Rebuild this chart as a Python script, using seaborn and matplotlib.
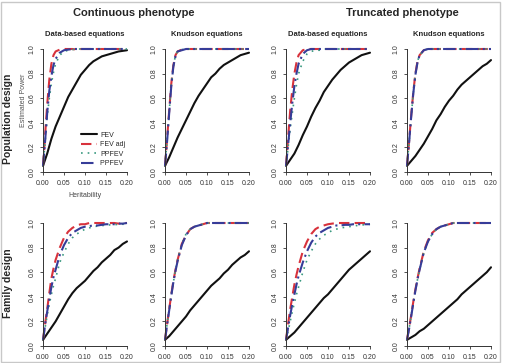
import numpy as np
import pandas as pd
import seaborn as sns
import matplotlib.pyplot as plt
from matplotlib.patches import Rectangle

# heritability grid shared by every curve
HERIT = [0, 0.005, 0.01, 0.015, 0.02, 0.025, 0.03, 0.04, 0.05, 0.06, 0.07, 0.08,
         0.09, 0.10, 0.11, 0.12, 0.13, 0.14, 0.15, 0.16, 0.17, 0.18, 0.19, 0.20]

SERIES = ["FEV", "FEV adj", "PPFEV", "PPFEV "]
COLUMN_TITLES = ["Continuous phenotype", "Truncated phenotype"]
PANEL_TITLES = ["Data-based equations", "Knudson equations"]
ROW_TITLES = ["Population design", "Family design"]

# population design, continuous phenotype, data-based equations
pop_cont_data_fev = [.05, .10, .15, .21, .27, .32, .37, .45, .53, .61, .67, .73, .79, .83, .87, .90, .92, .94, .95, .96, .97, .98, .985, .99]
pop_cont_data_adj = [.05, .30, .55, .75, .88, .95, .98, .995, 1, 1, 1, .995, 1, 1, 1, 1, 1, 1, 1, 1, 1, 1, 1, 1]
pop_cont_data_pp = [.05, .24, .45, .60, .72, .81, .88, .95, .98, .99, .995, 1, 1, 1, 1, 1, 1, 1, 1, 1, 1, 1, 1, 1]
pop_cont_data_ppadj = [.05, .25, .48, .66, .78, .87, .92, .97, .99, .995, 1, 1, 1, 1, 1, 1, 1, 1, 1, 1, 1, 1, 1, 1]

# population design, continuous phenotype, Knudson equations
pop_cont_knud_fev = [.05, .085, .12, .16, .20, .24, .28, .35, .42, .49, .56, .62, .67, .72, .77, .80, .84, .87, .89, .91, .93, .95, .96, .97]
pop_cont_knud_adj = [.05, .27, .50, .72, .87, .95, .98, .995, 1, 1, 1, 1, 1, 1, 1, 1, 1, 1, 1, 1, 1, 1, 1, 1]
pop_cont_knud_pp = [.05, .26, .49, .71, .86, .95, .98, .995, 1, 1, 1, 1, 1, 1, 1, 1, 1, 1, 1, 1, 1, 1, 1, 1]
pop_cont_knud_ppadj = [.05, .25, .48, .70, .86, .94, .98, .99, 1, 1, 1, 1, 1, 1, 1, 1, 1, 1, 1, 1, 1, 1, 1, 1]

# population design, truncated phenotype, data-based equations
pop_trunc_data_fev = [.05, .075, .10, .125, .15, .185, .22, .30, .37, .45, .52, .58, .65, .70, .75, .79, .83, .86, .89, .91, .93, .95, .96, .97]
pop_trunc_data_adj = [.05, .28, .50, .67, .80, .89, .95, .99, 1, 1, 1, 1, 1, 1, 1, 1, 1, 1, 1, 1, 1, 1, 1, 1]
pop_trunc_data_pp = [.05, .20, .35, .48, .60, .71, .80, .90, .96, .98, .99, .99, 1, 1, 1, 1, 1, 1, 1, 1, 1, 1, 1, 1]
pop_trunc_data_ppadj = [.05, .22, .40, .56, .70, .80, .88, .96, .99, 1, 1, 1, 1, 1, 1, 1, 1, 1, 1, 1, 1, 1, 1, 1]

# population design, truncated phenotype, Knudson equations
pop_trunc_knud_fev = [.05, .07, .09, .11, .13, .155, .18, .23, .29, .35, .42, .47, .53, .58, .62, .67, .71, .74, .77, .80, .83, .86, .88, .91]
pop_trunc_knud_adj = [.05, .25, .46, .65, .80, .90, .95, .99, 1, 1, 1, 1, 1, 1, 1, 1, 1, 1, 1, 1, 1, 1, 1, 1]
pop_trunc_knud_pp = [.05, .24, .45, .64, .80, .90, .95, .99, 1, 1, 1, 1, 1, 1, 1, 1, 1, 1, 1, 1, 1, 1, 1, 1]
pop_trunc_knud_ppadj = [.05, .24, .45, .64, .79, .89, .95, .99, 1, 1, 1, 1, 1, 1, 1, 1, 1, 1, 1, 1, 1, 1, 1, 1]

# family design, continuous phenotype, data-based equations
fam_cont_data_fev = [.05, .075, .10, .125, .15, .175, .20, .26, .32, .38, .43, .47, .50, .53, .57, .61, .64, .68, .71, .74, .78, .80, .83, .85]
fam_cont_data_adj = [.05, .18, .30, .43, .55, .63, .70, .80, .88, .93, .96, .98, .99, .99, 1, 1, 1, 1, 1, 1, 1, .995, 1, 1]
fam_cont_data_pp = [.05, .15, .25, .34, .42, .49, .55, .68, .76, .83, .88, .91, .93, .95, .96, .97, .975, .98, .98, .985, .985, .99, .99, .99]
fam_cont_data_ppadj = [.05, .17, .28, .38, .48, .56, .62, .74, .82, .88, .92, .94, .96, .97, .975, .98, .98, .985, .99, .99, .99, .995, .995, 1]

# family design, continuous phenotype, Knudson equations
fam_cont_knud_fev = [.05, .065, .08, .10, .12, .14, .16, .20, .24, .29, .33, .37, .41, .45, .49, .52, .55, .59, .62, .66, .69, .72, .74, .77]
fam_cont_knud_adj = [.05, .18, .30, .42, .53, .62, .70, .83, .90, .95, .97, .98, .99, 1, 1, 1, 1, 1, 1, 1, 1, 1, 1, 1]
fam_cont_knud_pp = [.05, .18, .30, .42, .52, .62, .70, .83, .91, .95, .97, .98, .99, 1, 1, 1, 1, 1, 1, 1, 1, 1, 1, 1]
fam_cont_knud_ppadj = [.05, .17, .29, .41, .52, .61, .69, .82, .90, .95, .97, .98, .99, 1, 1, 1, 1, 1, 1, 1, 1, 1, 1, 1]

# family design, truncated phenotype, data-based equations
fam_trunc_data_fev = [.05, .065, .08, .095, .11, .13, .15, .19, .23, .27, .31, .35, .39, .42, .46, .50, .54, .58, .62, .65, .68, .71, .74, .77]
fam_trunc_data_adj = [.05, .18, .30, .40, .50, .58, .65, .77, .85, .91, .95, .97, .98, .99, .995, 1, 1, 1, 1, 1, 1, 1, 1, 1]
fam_trunc_data_pp = [.05, .12, .20, .28, .35, .42, .48, .60, .70, .77, .83, .87, .90, .92, .94, .95, .96, .965, .97, .975, .98, .985, .985, .99]
fam_trunc_data_ppadj = [.05, .15, .25, .34, .42, .50, .57, .68, .77, .84, .89, .92, .94, .96, .97, .98, .98, .985, .985, .99, .99, .99, .99, .99]

# family design, truncated phenotype, Knudson equations
fam_trunc_knud_fev = [.05, .06, .07, .08, .09, .105, .12, .14, .17, .20, .23, .26, .29, .32, .35, .38, .42, .45, .48, .51, .54, .57, .60, .64]
fam_trunc_knud_adj = [.05, .15, .25, .36, .46, .55, .63, .77, .86, .92, .95, .97, .98, .99, 1, 1, 1, 1, 1, 1, 1, 1, 1, 1]
fam_trunc_knud_pp = [.05, .14, .25, .35, .45, .54, .62, .76, .85, .91, .95, .97, .98, .99, 1, 1, 1, 1, 1, 1, 1, 1, 1, 1]
fam_trunc_knud_ppadj = [.05, .14, .24, .35, .45, .54, .62, .76, .85, .91, .95, .97, .98, .99, 1, 1, 1, 1, 1, 1, 1, 1, 1, 1]

PANELS = [
    [[pop_cont_data_fev, pop_cont_data_adj, pop_cont_data_pp, pop_cont_data_ppadj],
     [pop_cont_knud_fev, pop_cont_knud_adj, pop_cont_knud_pp, pop_cont_knud_ppadj],
     [pop_trunc_data_fev, pop_trunc_data_adj, pop_trunc_data_pp, pop_trunc_data_ppadj],
     [pop_trunc_knud_fev, pop_trunc_knud_adj, pop_trunc_knud_pp, pop_trunc_knud_ppadj]],
    [[fam_cont_data_fev, fam_cont_data_adj, fam_cont_data_pp, fam_cont_data_ppadj],
     [fam_cont_knud_fev, fam_cont_knud_adj, fam_cont_knud_pp, fam_cont_knud_ppadj],
     [fam_trunc_data_fev, fam_trunc_data_adj, fam_trunc_data_pp, fam_trunc_data_ppadj],
     [fam_trunc_knud_fev, fam_trunc_knud_adj, fam_trunc_knud_pp, fam_trunc_knud_ppadj]],
]

colors = ["#111111", "#d8323c", "#3a9a80", "#363c98"]
dashes = [(None, None), (5, 2.5), (1, 3), (6, 2, 1, 2)]
widths = [1.5, 1.5, 1.2, 1.5]

sns.set_style("ticks")
plt.rcParams["font.family"] = ["Liberation Sans", "DejaVu Sans"]

W, H = 507, 363
fig = plt.figure(figsize=(W / 100, H / 100), dpi=100)
fig.add_artist(Rectangle((1 / W, 1 / H), 499 / W, 360 / H, transform=fig.transFigure,
                         fill=False, edgecolor="#c8c8c8", linewidth=1))

lefts = [43, 165, 286, 407]
tops = [49, 223]
pw, ph = 84, 123

for r in range(2):
    for c in range(4):
        ax = fig.add_axes([lefts[c] / W, 1 - (tops[r] + ph) / H, pw / W, ph / H])
        for k, name in enumerate(SERIES):
            df = pd.DataFrame({"h": HERIT, "power": PANELS[r][c][k]})
            sns.lineplot(data=df, x="h", y="power", ax=ax, color=colors[k],
                         linewidth=widths[k], label=name, clip_on=False)
            ln = ax.lines[-1]
            if dashes[k][0] is not None:
                ln.set_dashes(dashes[k])
        ax.set_xlim(0, 0.2)
        ax.set_ylim(0, 1)
        ax.set_xticks([0, 0.05, 0.1, 0.15, 0.2])
        ax.set_xticklabels(["0.00", "0.05", "0.10", "0.15", "0.20"])
        ax.set_yticks([0, 0.2, 0.4, 0.6, 0.8, 1.0])
        ax.set_yticklabels(["0.0", "0.2", "0.4", "0.6", "0.8", "1.0"], rotation=90, va="center")
        ax.tick_params(labelsize=5, colors="#333333", length=2.5, width=0.6, pad=3)
        for s in ["left", "bottom"]:
            ax.spines[s].set_linewidth(0.7)
            ax.spines[s].set_color("#333333")
        sns.despine(ax=ax)
        ax.set_xlabel("")
        ax.set_ylabel("")
        if r == 0 and c == 0:
            ax.legend(loc="lower right", bbox_to_anchor=(1.04, 0.0), frameon=False,
                      fontsize=5, handlelength=2.2, labelspacing=0.35,
                      handletextpad=0.5, borderaxespad=0.3)
            ax.set_ylabel("Estimated Power", fontsize=5, color="#555555")
            ax.yaxis.set_label_coords(-16 / pw, 0.585)
            ax.set_xlabel("Heritability", fontsize=5, color="#444444", labelpad=4)
        else:
            ax.get_legend().remove()
        if r == 0:
            ax.set_title(PANEL_TITLES[c % 2], fontsize=5.5, fontweight="bold", pad=9)

fig.text(134 / W, 1 - 13 / H, COLUMN_TITLES[0], ha="center", va="center",
         fontsize=8, fontweight="bold")
fig.text(402 / W, 1 - 13 / H, COLUMN_TITLES[1], ha="center", va="center",
         fontsize=8, fontweight="bold")
fig.text(8 / W, 1 - 119 / H, ROW_TITLES[0], ha="center", va="center", rotation=90,
         fontsize=7.5, fontweight="bold")
fig.text(8 / W, 1 - 283 / H, ROW_TITLES[1], ha="center", va="center", rotation=90,
         fontsize=7.5, fontweight="bold")

fig.savefig("out.png", dpi=100)
